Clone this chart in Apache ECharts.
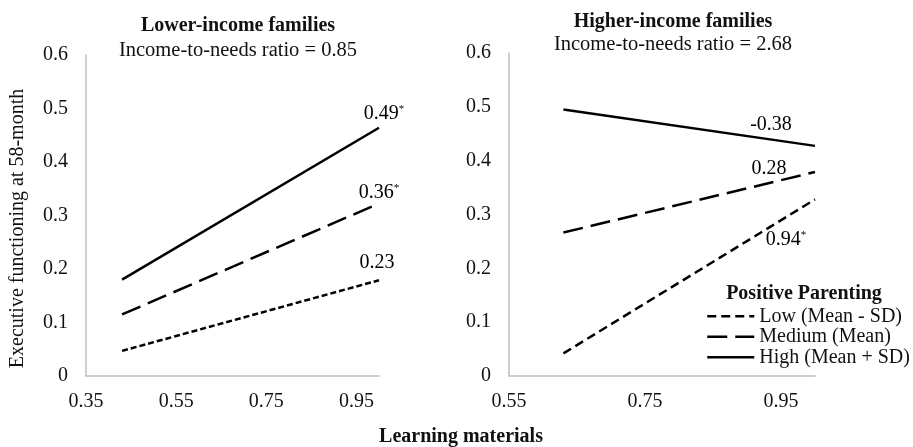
<!DOCTYPE html>
<html>
<head>
<meta charset="utf-8">
<script src="https://cdn.jsdelivr.net/npm/echarts@6/dist/echarts.min.js"></script>
<style>
  html, body { margin: 0; padding: 0; background: #fff; }
  #chart { width: 913px; height: 447px; }
</style>
</head>
<body>
<div id="chart"></div>
<script>
// Learning materials at the two plotted points (Mean - SD, Mean + SD)
const xLower = [0.43, 1.0];
const xHigher = [0.63, 1.0];

// Predicted executive functioning, lower-income families
const lowLower = [0.047, 0.179];
const medLower = [0.115, 0.3225];
const highLower = [0.18, 0.464];

// Predicted executive functioning, higher-income families
const lowHigher = [0.042, 0.328];
const medHigher = [0.2665, 0.379];
const highHigher = [0.495, 0.4275];

// Simple slopes (Low, Medium, High) and whether each is significant
const slopesLower = ['0.23', '0.36', '0.49'];
const sigLower = [false, true, true];
const slopesHigher = ['0.94', '0.28', '-0.38'];
const sigHigher = [true, false, false];

const groupNames = ['Low (Mean - SD)', 'Medium (Mean)', 'High (Mean + SD)'];
const panelTitles = ['Lower-income families', 'Higher-income families'];
const panelSubtitles = ['Income-to-needs ratio = 0.85', 'Income-to-needs ratio = 2.68'];

// Where each slope label sits relative to its line's end point
const labelOffsetsLower = [[-2, -17], [0, -11], [5, -14]];
const labelOffsetsHigher = [[-29, 40], [-46, -3], [-44, -21]];

const FONT = 'Liberation Serif';
const INK = '#111';
const AXIS_GRAY = '#bfbfbf';

const dashLowLower = [6, 3];
const dashLowHigher = [9, 5];
const dashMed = [20, 8];

function pairs(xs, ys) { return xs.map((x, i) => [x, ys[i]]); }

function lineSeries(name, gridIdx, xs, ys, dash) {
  return {
    type: 'line', name: name,
    xAxisIndex: gridIdx, yAxisIndex: gridIdx,
    data: pairs(xs, ys),
    symbol: 'none',
    lineStyle: { color: '#000', width: 2.5, type: dash },
    itemStyle: { color: '#000' },
    silent: true
  };
}

// Slope annotations anchored at the end of each line
function slopeLabelSeries(gridIdx, xs, ysList, slopes, sig, offsets) {
  const last = xs.length - 1;
  return {
    type: 'scatter', name: 'slopes' + gridIdx,
    xAxisIndex: gridIdx, yAxisIndex: gridIdx,
    symbol: 'circle',
    symbolSize: 0.01,
    itemStyle: { color: '#000' },
    silent: true,
    z: 5,
    data: ysList.map((ys, i) => ({
      value: [xs[last], ys[last]],
      label: {
        show: true, position: 'inside', offset: offsets[i],
        color: '#000', textBorderWidth: 0, opacity: 1,
        formatter: sig[i] ? '{n|' + slopes[i] + '}{s|*}' : '{n|' + slopes[i] + '}',
        rich: {
          n: { fontFamily: FONT, fontSize: 20, color: '#000', textBorderWidth: 0 },
          s: { fontFamily: FONT, fontSize: 11, color: '#000', textBorderWidth: 0, padding: [0, 0, 9, 0] }
        }
      }
    }))
  };
}

function xAxis(gridIdx, min) {
  return {
    type: 'value', gridIndex: gridIdx, min: min, max: 1.0, interval: 0.2,
    axisLine: { show: true, lineStyle: { color: AXIS_GRAY, width: 1.5 } },
    axisTick: { show: false }, splitLine: { show: false },
    axisLabel: {
      fontFamily: FONT, fontSize: 20, color: INK, margin: 16,
      showMaxLabel: false,
      formatter: v => v.toFixed(2)
    }
  };
}

function yAxis(gridIdx, withName) {
  const ax = {
    type: 'value', gridIndex: gridIdx, min: 0, max: 0.6, interval: 0.1,
    axisLine: { show: true, lineStyle: { color: AXIS_GRAY, width: 1.5 } },
    axisTick: { show: false }, splitLine: { show: false },
    axisLabel: {
      fontFamily: FONT, fontSize: 20, color: INK, margin: 18,
      formatter: v => String(Math.round(v * 10) / 10)
    }
  };
  if (withName) {
    ax.name = 'Executive functioning at 58-month';
    ax.nameLocation = 'middle';
    ax.nameGap = 58;
    ax.nameTextStyle = { fontFamily: FONT, fontSize: 20, color: INK, padding: [0, 26, 0, 0] };
  }
  return ax;
}

const chart = echarts.init(document.getElementById('chart'), null, { renderer: 'canvas' });

chart.setOption({
  animation: false,
  backgroundColor: '#fff',
  title: [
    { text: panelTitles[0], left: 233, top: 11, textAlign: 'center',
      textStyle: { fontFamily: FONT, fontSize: 20, fontWeight: 'bold', color: INK } },
    { text: panelSubtitles[0], left: 233, top: 35, textAlign: 'center',
      textStyle: { fontFamily: FONT, fontSize: 20.5, fontWeight: 'normal', color: INK } },
    { text: panelTitles[1], left: 668, top: 7, textAlign: 'center',
      textStyle: { fontFamily: FONT, fontSize: 20, fontWeight: 'bold', color: INK } },
    { text: panelSubtitles[1], left: 668, top: 29, textAlign: 'center',
      textStyle: { fontFamily: FONT, fontSize: 20.5, fontWeight: 'normal', color: INK } },
    { text: 'Learning materials', left: 456, top: 422, textAlign: 'center',
      textStyle: { fontFamily: FONT, fontSize: 20, fontWeight: 'bold', color: INK } },
    { text: 'Positive Parenting', left: 799, top: 279, textAlign: 'center',
      textStyle: { fontFamily: FONT, fontSize: 20, fontWeight: 'bold', color: INK } }
  ],
  legend: {
    data: groupNames,
    orient: 'vertical',
    left: 706, top: 306,
    itemWidth: 47, itemHeight: 14, itemGap: 0,
    padding: 0,
    lineStyle: { width: 2.5 },
    itemStyle: { opacity: 0, borderWidth: 0 },
    textStyle: { fontFamily: FONT, fontSize: 20, color: INK, lineHeight: 20.5 },
    selectedMode: false
  },
  grid: [
    { left: 86, top: 55, width: 293, height: 321 },
    { left: 509, top: 53, width: 306, height: 323 }
  ],
  xAxis: [xAxis(0, 0.35), xAxis(1, 0.55)],
  yAxis: [yAxis(0, true), yAxis(1, false)],
  series: [
    // higher-income panel first so the legend takes its dash patterns
    lineSeries(groupNames[0], 1, xHigher, lowHigher, dashLowHigher),
    lineSeries(groupNames[1], 1, xHigher, medHigher, dashMed),
    lineSeries(groupNames[2], 1, xHigher, highHigher, 'solid'),
    lineSeries(groupNames[0], 0, xLower, lowLower, dashLowLower),
    lineSeries(groupNames[1], 0, xLower, medLower, dashMed),
    lineSeries(groupNames[2], 0, xLower, highLower, 'solid'),
    slopeLabelSeries(0, xLower, [lowLower, medLower, highLower], slopesLower, sigLower, labelOffsetsLower),
    slopeLabelSeries(1, xHigher, [lowHigher, medHigher, highHigher], slopesHigher, sigHigher, labelOffsetsHigher)
  ]
});
</script>
</body>
</html>
